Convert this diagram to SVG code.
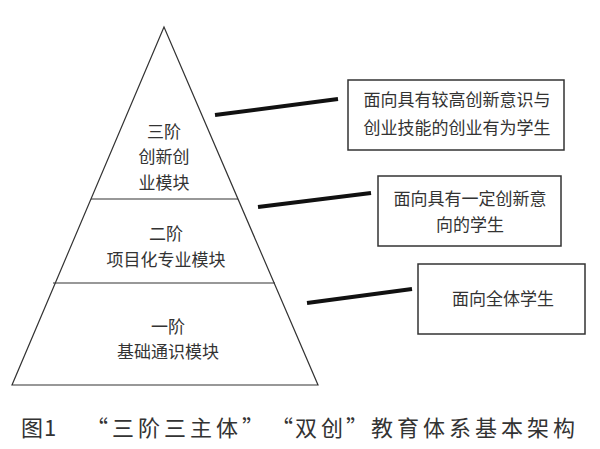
<svg xmlns="http://www.w3.org/2000/svg" width="600" height="449" viewBox="0 0 600 449">
<style>
text{font-family:"Noto Sans CJK SC","Noto Sans CJK JP",sans-serif;fill:#333;font-size:17px;text-anchor:middle}
.thin{stroke:#333;stroke-width:1.2;fill:none}
.box{stroke:#333;stroke-width:1.5;fill:#fff}
.conn{stroke:#111;stroke-width:4;stroke-linecap:butt}
.cap{font-size:22px;text-anchor:start}
</style>
<rect width="600" height="449" fill="#fff"/>
<g id="pyramid">
<polygon class="thin" points="164,27 12,385 318,385"/>
</g>
<g id="tier3">
<line class="thin" x1="91" y1="199" x2="238" y2="199"/>
<text x="164" y="138">三阶</text>
<text x="164" y="163">创新创</text>
<text x="164" y="189">业模块</text>
</g>
<g id="tier2">
<line class="thin" x1="53" y1="283" x2="275" y2="283"/>
<text x="166" y="240">二阶</text>
<text x="166" y="266">项目化专业模块</text>
</g>
<g id="tier1">
<text x="168" y="333">一阶</text>
<text x="168" y="358">基础通识模块</text>
</g>
<g id="box1">
<rect class="box" x="348" y="80" width="216" height="70"/>
<text x="457" y="106">面向具有较高创新意识与</text>
<text x="457" y="134">创业技能的创业有为学生</text>
</g>
<g id="box2">
<rect class="box" x="378" y="176" width="183" height="70"/>
<text x="470" y="205">面向具有一定创新意</text>
<text x="470" y="231">向的学生</text>
</g>
<g id="box3">
<rect class="box" x="418" y="264" width="167" height="70"/>
<text x="503" y="305">面向全体学生</text>
</g>
<g id="connectors">
<line class="conn" x1="215" y1="115" x2="338" y2="99"/>
<line class="conn" x1="258" y1="207" x2="371" y2="193"/>
<line class="conn" x1="307" y1="303" x2="412" y2="289"/>
</g>
<g id="caption">
<text class="cap" x="21 44" y="436">图1</text>
<text class="cap" x="86 112 138 164 190 216 242" y="436">“三阶三主体”</text>
<text class="cap" x="271 295 321 346" y="436">“双创”</text>
<text class="cap" x="371 397 423 449 475 501 527 553" y="436">教育体系基本架构</text>
</g>
</svg>
